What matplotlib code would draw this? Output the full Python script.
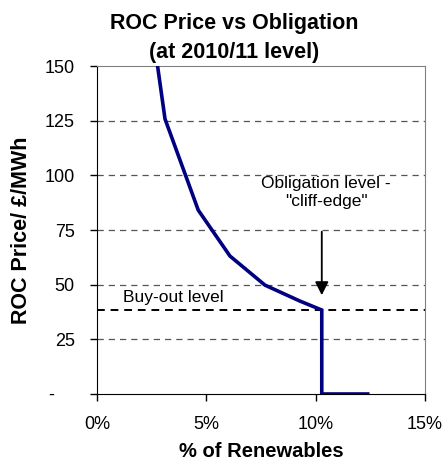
import numpy as np
import matplotlib.pyplot as plt
from matplotlib.ticker import FuncFormatter

plt.rcParams['font.family'] = ['Liberation Sans', 'DejaVu Sans']

# supply curve: share of renewables (%) vs ROC price (GBP/MWh)
renew_pct = [2.77, 3.11, 4.63, 6.08, 7.68, 9.28, 10.28, 10.28, 12.38]
roc_price = [150, 125.8, 84.1, 63.1, 49.8, 42.5, 38.4, 0, 0]

buyout = 38.4
obligation = 10.28

yticks = [0, 25, 50, 75, 100, 125, 150]
xticks = [0, 5, 10, 15]

fig = plt.figure(figsize=(4.45, 4.65), dpi=100)
ax = fig.add_axes([0.218, 0.1527, 0.737, 0.7053])

for y in yticks[1:-1]:
    ax.axhline(y, color='#555555', lw=0.9, ls=(0, (5, 4)), zorder=1)

ax.axhline(buyout, color='black', lw=1.4, ls=(0, (4, 3)), zorder=2)
ax.plot(renew_pct, roc_price, color='#000080', lw=2.6, zorder=3,
        solid_joinstyle='miter')

ax.text(1.18, buyout + 2.3, 'Buy-out level', fontsize=12.5, va='bottom')
ax.text(obligation + 0.2, 99.5, 'Obligation level -\n"cliff-edge"',
        fontsize=12.5, ha='center', va='top', linespacing=1.2)
ax.annotate('', xy=(obligation, buyout + 5.5), xytext=(obligation, 75.5),
            arrowprops=dict(arrowstyle='-|>', color='black', lw=1.3,
                            mutation_scale=20))

ax.set_xlim(0, 15)
ax.set_ylim(0, 150)
ax.set_xticks(xticks)
ax.set_yticks(yticks)
ax.xaxis.set_major_formatter(FuncFormatter(lambda v, p: f'{v:.0f}%'))
ax.yaxis.set_major_formatter(FuncFormatter(lambda v, p: '-    ' if v == 0 else f'{v:.0f}'))
ax.tick_params(axis='both', direction='out', length=5, width=1, labelsize=13)
ax.tick_params(axis='y', pad=11)
ax.tick_params(axis='x', pad=11)

for s in ['top', 'right']:
    ax.spines[s].set_color('#808080')
for s in ['left', 'bottom']:
    ax.spines[s].set_color('black')

ax.set_xlabel('% of Renewables', fontsize=14.5, fontweight='bold', labelpad=6)
ax.set_ylabel('ROC Price/ £/MWh', fontsize=15.5, fontweight='bold', labelpad=9)
ax.set_title('ROC Price vs Obligation\n(at 2010/11 level)', fontsize=15.5,
             fontweight='bold', pad=6, linespacing=1.5, x=0.418)

fig.savefig('out.png', dpi=100)
